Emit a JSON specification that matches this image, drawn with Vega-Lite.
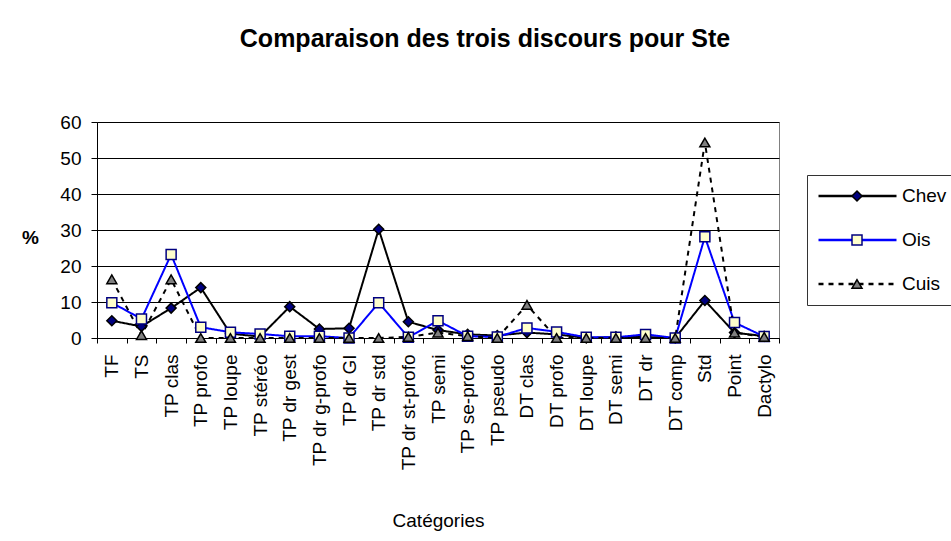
{
  "$schema": "https://vega.github.io/schema/vega-lite/v6.json",
  "width": 682,
  "height": 216,
  "autosize": {"type": "none"},
  "padding": {"left": 97, "top": 122, "right": 172, "bottom": 203},
  "background": "white",
  "config": {"font": "Liberation Sans", "view": {"stroke": "#808080", "strokeWidth": 1}},
  "title": {"text": "Comparaison des trois discours pour Ste", "fontSize": 25, "fontWeight": "bold", "font": "Liberation Sans", "color": "black", "anchor": "middle", "frame": "group", "dx": 47, "baseline": "alphabetic", "offset": 41},
  "data": {"values": [
    {"c": "TF", "s": "Chev", "v": 4.8},
    {"c": "TS", "s": "Chev", "v": 3.2},
    {"c": "TP clas", "s": "Chev", "v": 8.3},
    {"c": "TP profo", "s": "Chev", "v": 14},
    {"c": "TP loupe", "s": "Chev", "v": 1.2},
    {"c": "TP stéréo", "s": "Chev", "v": 0.4},
    {"c": "TP dr gest", "s": "Chev", "v": 8.7},
    {"c": "TP dr g-profo", "s": "Chev", "v": 2.5},
    {"c": "TP dr GI", "s": "Chev", "v": 2.7},
    {"c": "TP dr std", "s": "Chev", "v": 30.2},
    {"c": "TP dr st-profo", "s": "Chev", "v": 4.5},
    {"c": "TP semi", "s": "Chev", "v": 2.2},
    {"c": "TP se-profo", "s": "Chev", "v": 1},
    {"c": "TP pseudo", "s": "Chev", "v": 0.7},
    {"c": "DT clas", "s": "Chev", "v": 1.5},
    {"c": "DT profo", "s": "Chev", "v": 1},
    {"c": "DT loupe", "s": "Chev", "v": 0},
    {"c": "DT semi", "s": "Chev", "v": 0.3},
    {"c": "DT dr", "s": "Chev", "v": 0.3},
    {"c": "DT comp", "s": "Chev", "v": 0},
    {"c": "Std", "s": "Chev", "v": 10.4},
    {"c": "Point", "s": "Chev", "v": 1.5},
    {"c": "Dactylo", "s": "Chev", "v": 0.5},
    {"c": "TF", "s": "Ois", "v": 9.8},
    {"c": "TS", "s": "Ois", "v": 5.3},
    {"c": "TP clas", "s": "Ois", "v": 23.2},
    {"c": "TP profo", "s": "Ois", "v": 3},
    {"c": "TP loupe", "s": "Ois", "v": 1.6},
    {"c": "TP stéréo", "s": "Ois", "v": 1.1},
    {"c": "TP dr gest", "s": "Ois", "v": 0.5},
    {"c": "TP dr g-profo", "s": "Ois", "v": 0.5},
    {"c": "TP dr GI", "s": "Ois", "v": 0},
    {"c": "TP dr std", "s": "Ois", "v": 9.8},
    {"c": "TP dr st-profo", "s": "Ois", "v": 0.2},
    {"c": "TP semi", "s": "Ois", "v": 4.8},
    {"c": "TP se-profo", "s": "Ois", "v": 0.5},
    {"c": "TP pseudo", "s": "Ois", "v": 0.3},
    {"c": "DT clas", "s": "Ois", "v": 2.8},
    {"c": "DT profo", "s": "Ois", "v": 1.7},
    {"c": "DT loupe", "s": "Ois", "v": 0.2},
    {"c": "DT semi", "s": "Ois", "v": 0.2},
    {"c": "DT dr", "s": "Ois", "v": 1},
    {"c": "DT comp", "s": "Ois", "v": 0},
    {"c": "Std", "s": "Ois", "v": 28.1},
    {"c": "Point", "s": "Ois", "v": 4.3},
    {"c": "Dactylo", "s": "Ois", "v": 0.4},
    {"c": "TF", "s": "Cuis", "v": 16.3},
    {"c": "TS", "s": "Cuis", "v": 0.8},
    {"c": "TP clas", "s": "Cuis", "v": 16.3},
    {"c": "TP profo", "s": "Cuis", "v": 0},
    {"c": "TP loupe", "s": "Cuis", "v": 0},
    {"c": "TP stéréo", "s": "Cuis", "v": 0},
    {"c": "TP dr gest", "s": "Cuis", "v": 0},
    {"c": "TP dr g-profo", "s": "Cuis", "v": 0},
    {"c": "TP dr GI", "s": "Cuis", "v": 0},
    {"c": "TP dr std", "s": "Cuis", "v": 0},
    {"c": "TP dr st-profo", "s": "Cuis", "v": 0.3},
    {"c": "TP semi", "s": "Cuis", "v": 1.5},
    {"c": "TP se-profo", "s": "Cuis", "v": 0.5},
    {"c": "TP pseudo", "s": "Cuis", "v": 0},
    {"c": "DT clas", "s": "Cuis", "v": 9.2},
    {"c": "DT profo", "s": "Cuis", "v": 0},
    {"c": "DT loupe", "s": "Cuis", "v": 0},
    {"c": "DT semi", "s": "Cuis", "v": 0},
    {"c": "DT dr", "s": "Cuis", "v": 0},
    {"c": "DT comp", "s": "Cuis", "v": 0},
    {"c": "Std", "s": "Cuis", "v": 54.3},
    {"c": "Point", "s": "Cuis", "v": 1.5},
    {"c": "Dactylo", "s": "Cuis", "v": 0.3}
  ]},
  "encoding": {
    "x": {
      "field": "c", "type": "nominal", "title": "Catégories",
      "scale": {"type": "band", "paddingInner": 0, "paddingOuter": 0,
        "domain": ["TF", "TS", "TP clas", "TP profo", "TP loupe", "TP stéréo", "TP dr gest", "TP dr g-profo", "TP dr GI", "TP dr std", "TP dr st-profo", "TP semi", "TP se-profo", "TP pseudo", "DT clas", "DT profo", "DT loupe", "DT semi", "DT dr", "DT comp", "Std", "Point", "Dactylo"]},
      "axis": {"tickBand": "extent", "labelAngle": -90, "labelAlign": "right", "labelBaseline": "middle", "labelFontSize": 19, "labelColor": "black", "tickColor": "black", "domainColor": "black", "tickSize": 5, "labelPadding": 11, "titleFontSize": 19, "titleFontWeight": "normal", "titleColor": "black", "titleY": 182, "titleBaseline": "middle", "grid": false, "labelOverlap": false, "labelLimit": 0}
    },
    "y": {
      "field": "v", "type": "quantitative", "title": "%",
      "scale": {"domain": [0, 60], "nice": false},
      "axis": {"values": [0, 10, 20, 30, 40, 50, 60], "grid": true, "gridColor": "black", "gridWidth": 1, "gridOpacity": 1, "tickSize": 6, "tickColor": "black", "domainColor": "black", "labelPadding": 10, "labelFontSize": 19, "labelColor": "black", "titleAngle": 0, "titleX": -67, "titleY": 115, "titleAlign": "center", "titleBaseline": "middle", "titleFontSize": 19, "titleFontWeight": "bold", "titleColor": "black"}
    }
  },
  "layer": [
    {
      "mark": {"type": "line", "strokeWidth": 2},
      "encoding": {
        "color": {"field": "s", "type": "nominal", "scale": {"domain": ["Chev", "Ois", "Cuis"], "range": ["#000000", "#0000FF", "#000000"]},
          "legend": {"title": null, "orient": "none", "legendX": 710, "legendY": 53, "symbolType": "stroke", "symbolSize": 6084, "symbolStrokeWidth": 2.5, "symbolOpacity": 1, "clipHeight": 22, "rowPadding": 22, "labelOffset": 4, "padding": 10, "strokeColor": "#333333", "fillColor": "white", "labelFontSize": 19, "labelColor": "black", "labelLimit": 0}},
        "strokeDash": {"field": "s", "type": "nominal", "scale": {"domain": ["Chev", "Ois", "Cuis"], "range": [[1, 0], [1, 0], [5, 5]]},
          "legend": {"title": null, "orient": "none", "legendX": 710, "legendY": 53, "symbolType": "stroke", "symbolSize": 6084, "symbolStrokeWidth": 2.5, "symbolOpacity": 1, "clipHeight": 22, "rowPadding": 22, "labelOffset": 4, "padding": 10, "strokeColor": "#333333", "fillColor": "white", "labelFontSize": 19, "labelColor": "black", "labelLimit": 0}}
      }
    },
    {
      "transform": [{"filter": "isValid(datum.v)"}],
      "mark": {"type": "point", "filled": true, "size": 100, "strokeWidth": 1.5, "opacity": 1},
      "encoding": {
        "shape": {"field": "s", "type": "nominal", "sort": null, "scale": {"range": ["diamond", "square", "triangle-up"]},
          "legend": {"title": null, "orient": "none", "legendX": 710, "legendY": 53, "symbolOffset": 34, "symbolSize": 100, "symbolStrokeWidth": 1.5, "symbolOpacity": 1, "clipHeight": 22, "rowPadding": 22, "padding": 10, "labelFontSize": 1, "labelOpacity": 0}},
        "fill": {"field": "s", "type": "nominal", "sort": null, "scale": {"range": ["#000080", "#FFFFCC", "#808080"]},
          "legend": {"title": null, "orient": "none", "legendX": 710, "legendY": 53, "symbolOffset": 34, "symbolSize": 100, "symbolStrokeWidth": 1.5, "symbolOpacity": 1, "clipHeight": 22, "rowPadding": 22, "padding": 10, "labelFontSize": 1, "labelOpacity": 0}},
        "stroke": {"field": "s", "type": "nominal", "sort": null, "scale": {"range": ["#000000", "#000080", "#000000"]},
          "legend": {"title": null, "orient": "none", "legendX": 710, "legendY": 53, "symbolOffset": 34, "symbolSize": 100, "symbolStrokeWidth": 1.5, "symbolOpacity": 1, "clipHeight": 22, "rowPadding": 22, "padding": 10, "labelFontSize": 1, "labelOpacity": 0}}
      }
    }
  ]
}
